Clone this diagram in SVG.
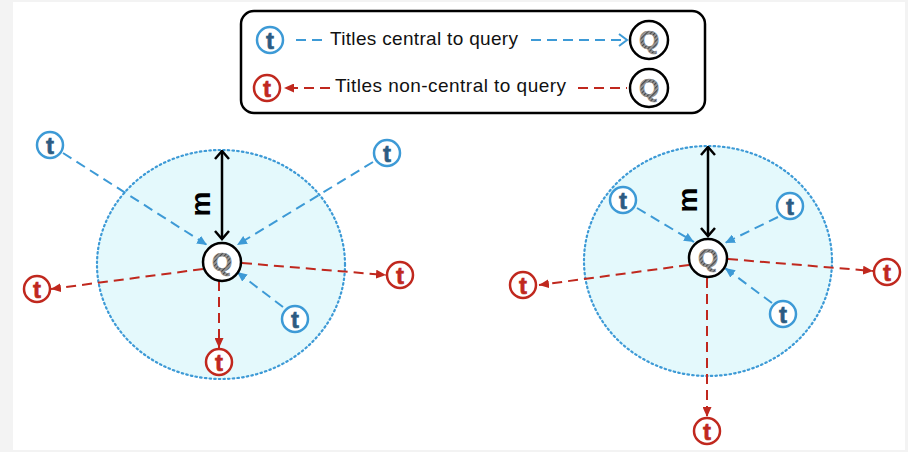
<svg xmlns="http://www.w3.org/2000/svg" width="908" height="452" viewBox="0 0 908 452">
<defs>
<style>
.tb circle{fill:#fff;stroke:#3d9ad6;stroke-width:2.5}
.tb text{fill:#2c5b82;stroke:#2c5b82}
.tr circle{fill:#fff;stroke:#c0281e;stroke-width:2.5}
.tr text{fill:#c0281e;stroke:#c0281e}
.t text{font-family:"Liberation Sans",Arial,sans-serif;font-weight:bold;font-size:24px;text-anchor:middle;stroke-width:0.6}
.q circle{fill:#fff;stroke:#000;stroke-width:2.5}
.q text{font-family:"Liberation Sans",Arial,sans-serif;font-weight:bold;font-size:26px;text-anchor:middle;fill:url(#hatch);stroke:#888;stroke-width:0.6}
.zone{fill:#e4f9fc;stroke:#3d9ad6;stroke-width:2.2;stroke-dasharray:1.5 3.2;stroke-linecap:round}
.cb{stroke:#3d9ad6;stroke-width:2;stroke-dasharray:10 6;fill:none}
.cr{stroke:#c0281e;stroke-width:2;stroke-dasharray:10 6;fill:none}
.cm{stroke:#000;stroke-width:2.5;fill:none}
.lbl{font-family:"Liberation Sans",Arial,sans-serif;font-size:19px;fill:#111}
.m{font-family:"Liberation Sans",Arial,sans-serif;font-weight:bold;font-size:28px;fill:#000;text-anchor:middle}
</style>
<pattern id="hatch" width="3" height="3" patternUnits="userSpaceOnUse" patternTransform="rotate(45)">
<rect width="3" height="3" fill="#9a9a9a"/>
<rect width="1.2" height="3" fill="#444"/>
</pattern>
<marker id="ab" markerUnits="userSpaceOnUse" markerWidth="11" markerHeight="9" refX="10" refY="4.5" orient="auto">
<path d="M0,0 L10,4.5 L0,9 z" fill="#3d9ad6"/>
</marker>
<marker id="ar" markerUnits="userSpaceOnUse" markerWidth="11" markerHeight="9" refX="10" refY="4.5" orient="auto">
<path d="M0,0 L10,4.5 L0,9 z" fill="#c0281e"/>
</marker>
<marker id="ob" markerUnits="userSpaceOnUse" markerWidth="12" markerHeight="14" refX="9" refY="7" orient="auto">
<path d="M1,1 L9,7 L1,13" fill="none" stroke="#3d9ad6" stroke-width="2"/>
</marker>
<marker id="okE" markerUnits="userSpaceOnUse" markerWidth="12" markerHeight="16" refX="9" refY="8" orient="auto">
<path d="M1,1 L9,8 L1,15" fill="none" stroke="#000" stroke-width="2.5"/>
</marker>
<marker id="okS" markerUnits="userSpaceOnUse" markerWidth="12" markerHeight="16" refX="1" refY="8" orient="auto">
<path d="M9,1 L1,8 L9,15" fill="none" stroke="#000" stroke-width="2.5"/>
</marker>
</defs>

<rect x="0" y="0" width="908" height="452" fill="#f3f3f3"/>
<rect x="13" y="2" width="892" height="448" fill="#fff"/>

<!-- zones -->
<g id="zone-left"><ellipse class="zone" cx="221" cy="264.5" rx="124" ry="114.5"/></g>
<g id="zone-right"><ellipse class="zone" cx="708" cy="261" rx="124" ry="115"/></g>

<!-- legend -->
<g id="legend">
<rect x="241" y="11" width="464" height="102" rx="13" fill="#fff" stroke="#000" stroke-width="2.5"/>
<text class="lbl" x="330" y="45" textLength="188">Titles central to query</text>
<text class="lbl" x="335" y="92" textLength="231">Titles non-central to  query</text>
</g>

<!-- connectors -->
<g id="connectors">
<line class="cb" x1="296" y1="40" x2="326" y2="40"/>
<line class="cb" x1="531" y1="40" x2="627" y2="40" marker-end="url(#ob)"/>
<line class="cr" x1="330" y1="88" x2="284" y2="88" marker-end="url(#ar)"/>
<line class="cr" x1="578" y1="88" x2="627" y2="88"/>

<line class="cm" x1="222" y1="151" x2="222" y2="239" marker-start="url(#okS)" marker-end="url(#okE)"/>
<line class="cb" x1="63" y1="153" x2="207" y2="245" marker-end="url(#ab)"/>
<line class="cb" x1="373" y1="162" x2="237" y2="245" marker-end="url(#ab)"/>
<line class="cb" x1="283" y1="307" x2="237" y2="272" marker-end="url(#ab)"/>
<line class="cr" x1="203" y1="269" x2="51" y2="289" marker-end="url(#ar)"/>
<line class="cr" x1="242" y1="263" x2="386" y2="275" marker-end="url(#ar)"/>
<line class="cr" x1="219" y1="281" x2="219" y2="348" marker-end="url(#ar)"/>

<line class="cm" x1="708" y1="147" x2="708" y2="236" marker-start="url(#okS)" marker-end="url(#okE)"/>
<line class="cb" x1="637" y1="208" x2="694" y2="242" marker-end="url(#ab)"/>
<line class="cb" x1="778" y1="217" x2="725" y2="243" marker-end="url(#ab)"/>
<line class="cb" x1="772" y1="303" x2="725" y2="268" marker-end="url(#ab)"/>
<line class="cr" x1="689" y1="265" x2="539" y2="285" marker-end="url(#ar)"/>
<line class="cr" x1="728" y1="259" x2="873" y2="271" marker-end="url(#ar)"/>
<line class="cr" x1="707" y1="278" x2="707" y2="417" marker-end="url(#ar)"/>
</g>

<!-- m labels -->
<g id="m-left"><text class="m" transform="translate(201,204) rotate(-90)" y="9">m</text></g>
<g id="m-right"><text class="m" transform="translate(688,200) rotate(-90)" y="9">m</text></g>

<!-- legend icons -->
<g id="leg-t-blue" class="t tb"><circle cx="270" cy="40" r="13"/><text x="270" y="48.5">t</text></g>
<g id="leg-t-red" class="t tr"><circle cx="267" cy="88" r="13"/><text x="267" y="96.5">t</text></g>
<g id="leg-q1" class="q"><circle cx="649" cy="40" r="19"/><text x="649" y="49">Q</text></g>
<g id="leg-q2" class="q"><circle cx="649" cy="88" r="19"/><text x="649" y="97">Q</text></g>

<!-- left diagram nodes -->
<g id="L-q" class="q"><circle cx="222" cy="262" r="19"/><text x="222" y="271">Q</text></g>
<g id="L-tb1" class="t tb"><circle cx="50" cy="145" r="13"/><text x="50" y="153.5">t</text></g>
<g id="L-tb2" class="t tb"><circle cx="387" cy="153" r="13"/><text x="387" y="161.5">t</text></g>
<g id="L-tb3" class="t tb"><circle cx="295" cy="319" r="13"/><text x="295" y="327.5">t</text></g>
<g id="L-tr1" class="t tr"><circle cx="37" cy="289" r="13"/><text x="37" y="297.5">t</text></g>
<g id="L-tr2" class="t tr"><circle cx="400" cy="275" r="13"/><text x="400" y="283.5">t</text></g>
<g id="L-tr3" class="t tr"><circle cx="219" cy="362" r="13"/><text x="219" y="370.5">t</text></g>

<!-- right diagram nodes -->
<g id="R-q" class="q"><circle cx="708" cy="258" r="19"/><text x="708" y="267">Q</text></g>
<g id="R-tb1" class="t tb"><circle cx="623" cy="200" r="13"/><text x="623" y="208.5">t</text></g>
<g id="R-tb2" class="t tb"><circle cx="790" cy="206" r="13"/><text x="790" y="214.5">t</text></g>
<g id="R-tb3" class="t tb"><circle cx="783" cy="314" r="13"/><text x="783" y="322.5">t</text></g>
<g id="R-tr1" class="t tr"><circle cx="523" cy="285" r="13"/><text x="523" y="293.5">t</text></g>
<g id="R-tr2" class="t tr"><circle cx="887" cy="272" r="13"/><text x="887" y="280.5">t</text></g>
<g id="R-tr3" class="t tr"><circle cx="707" cy="431" r="13"/><text x="707" y="439.5">t</text></g>
</svg>
